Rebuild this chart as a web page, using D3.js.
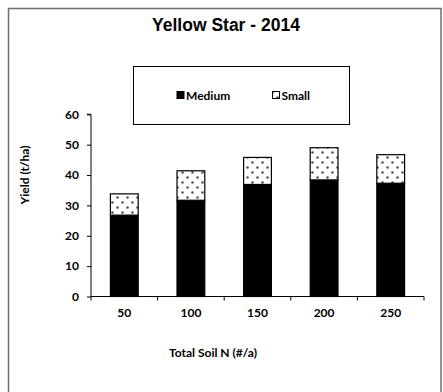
<!DOCTYPE html>
<html>
<head>
<meta charset="utf-8">
<script src="https://cdn.jsdelivr.net/npm/d3@7"></script>
<style>
  html, body { margin: 0; padding: 0; background: #fff; }
  svg { display: block; }
</style>
</head>
<body>
<svg id="chart" width="443" height="392"></svg>
<script>
// Soil nitrogen levels and the yield split by size grade
const categories = ["50", "100", "150", "200", "250"];
const medium = [26.8, 31.7, 36.9, 38.4, 37.3];
const small = [7.0, 9.7, 8.9, 10.6, 9.4];
const yTicks = [0, 10, 20, 30, 40, 50, 60];
const seriesNames = ["Medium", "Small"];

const svg = d3.select("#chart");
const labelFont = "Lato, 'Open Sans', sans-serif";
const labelSize = 12;

// outer frame
svg.append("rect")
  .attr("x", 8.5).attr("y", 8.5)
  .attr("width", 432.5).attr("height", 400)
  .attr("fill", "#fff")
  .attr("stroke", "#6e6e6e").attr("stroke-width", 1.5);

// dotted fill for the small grade
const defs = svg.append("defs");
const pat = defs.append("pattern")
  .attr("id", "dots")
  .attr("patternUnits", "userSpaceOnUse")
  .attr("width", 10).attr("height", 10);
pat.append("rect").attr("width", 10).attr("height", 10).attr("fill", "#fff");
pat.append("circle").attr("cx", 2.5).attr("cy", 2.5).attr("r", 1.3).attr("fill", "#555");
pat.append("circle").attr("cx", 7.5).attr("cy", 7.5).attr("r", 1.3).attr("fill", "#555");

const plotLeft = 91, plotRight = 424, plotTop = 114.3, plotBottom = 296.5;

const x = d3.scaleBand().domain(categories).range([plotLeft, plotRight])
  .paddingInner(0.583).paddingOuter(0.2915);
const y = d3.scaleLinear().domain([0, 60]).range([plotBottom, plotTop]);

// title
svg.append("text")
  .attr("x", 226).attr("y", 30.5)
  .attr("text-anchor", "middle")
  .attr("font-family", "Arial, 'Liberation Sans', sans-serif")
  .attr("font-weight", "bold").attr("font-size", 17.5)
  .text("Yellow Star - 2014");

// stacked bars
const rows = categories.map((c, i) => ({ cat: c, Medium: medium[i], Small: small[i] }));
const stacked = d3.stack().keys(seriesNames)(rows);
const fills = { Medium: "#000", Small: "url(#dots)" };

const g = svg.append("g");
stacked.forEach(layer => {
  g.selectAll(null).data(layer).enter().append("rect")
    .attr("x", d => x(d.data.cat))
    .attr("width", x.bandwidth())
    .attr("y", d => y(d[1]))
    .attr("height", d => y(d[0]) - y(d[1]))
    .attr("fill", fills[layer.key])
    .attr("stroke", "#000").attr("stroke-width", 1.2);
});

// y axis
const yAxis = svg.append("g")
  .attr("transform", `translate(${plotLeft},0)`)
  .call(d3.axisLeft(y).tickValues(yTicks).tickSize(4).tickPadding(8));
// x axis
const xAxis = svg.append("g")
  .attr("transform", `translate(0,${plotBottom})`)
  .call(d3.axisBottom(x).tickSize(0).tickPadding(12));
// x ticks sit on the category boundaries
xAxis.selectAll(".bound").data(d3.range(categories.length + 1)).enter()
  .append("line").attr("class", "bound")
  .attr("x1", i => plotLeft + i * (plotRight - plotLeft) / categories.length)
  .attr("x2", i => plotLeft + i * (plotRight - plotLeft) / categories.length)
  .attr("y1", 0).attr("y2", 4)
  .attr("stroke", "#000");

[yAxis, xAxis].forEach(a => {
  a.select(".domain").attr("stroke", "#000").attr("stroke-width", 1);
  a.selectAll("line").attr("stroke", "#000");
  a.selectAll("text")
    .attr("font-family", labelFont).attr("font-weight", "bold")
    .attr("font-size", labelSize).attr("fill", "#000");
});
yAxis.select(".domain").attr("d", `M-4,${plotTop}H0V${plotBottom}`);
xAxis.select(".domain").attr("d", `M${plotLeft},0H${plotRight}`);

// axis titles
svg.append("text")
  .attr("transform", "translate(29,175) rotate(-90)")
  .attr("text-anchor", "middle")
  .attr("font-family", labelFont).attr("font-weight", "bold").attr("font-size", labelSize)
  .text("Yield (t/ha)");
svg.append("text")
  .attr("x", 213).attr("y", 357)
  .attr("text-anchor", "middle")
  .attr("font-family", labelFont).attr("font-weight", "bold").attr("font-size", labelSize)
  .text("Total Soil N (#/a)");

// legend
const lg = svg.append("g");
lg.append("rect")
  .attr("x", 133.5).attr("y", 66.5).attr("width", 216).attr("height", 58)
  .attr("fill", "#fff").attr("stroke", "#000").attr("stroke-width", 1);
const legendX = [177, 272.5];
seriesNames.forEach((name, i) => {
  lg.append("rect")
    .attr("x", legendX[i]).attr("y", 91.5).attr("width", 7).attr("height", 7)
    .attr("fill", fills[name]).attr("stroke", "#000").attr("stroke-width", 1);
  lg.append("text")
    .attr("x", legendX[i] + 9).attr("y", 99.5)
    .attr("font-family", labelFont).attr("font-weight", "bold").attr("font-size", labelSize)
    .text(name);
});
</script>
</body>
</html>
